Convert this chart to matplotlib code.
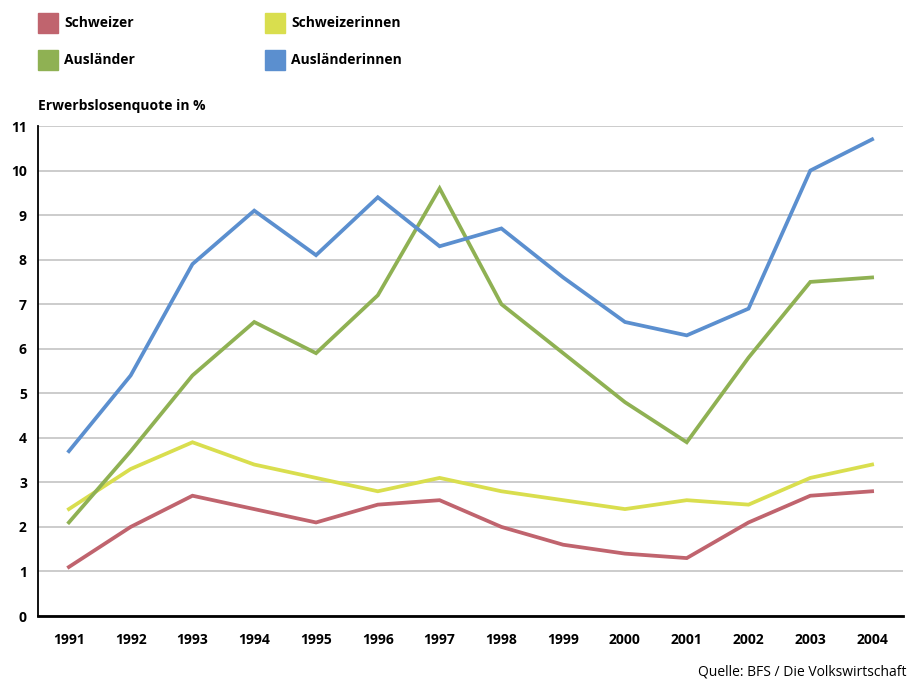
import matplotlib.pyplot as plt
from matplotlib.patches import Rectangle

plt.rcParams['font.family'] = ['Open Sans', 'DejaVu Sans']

years = ['1991', '1992', '1993', '1994', '1995', '1996', '1997',
         '1998', '1999', '2000', '2001', '2002', '2003', '2004']
schweizer = [1.1, 2.0, 2.7, 2.4, 2.1, 2.5, 2.6, 2.0, 1.6, 1.4, 1.3, 2.1, 2.7, 2.8]
schweizerinnen = [2.4, 3.3, 3.9, 3.4, 3.1, 2.8, 3.1, 2.8, 2.6, 2.4, 2.6, 2.5, 3.1, 3.4]
auslaender = [2.1, 3.7, 5.4, 6.6, 5.9, 7.2, 9.6, 7.0, 5.9, 4.8, 3.9, 5.8, 7.5, 7.6]
auslaenderinnen = [3.7, 5.4, 7.9, 9.1, 8.1, 9.4, 8.3, 8.7, 7.6, 6.6, 6.3, 6.9, 10.0, 10.7]

series = [
    ('Schweizer', schweizer, '#c0646e'),
    ('Schweizerinnen', schweizerinnen, '#d9de4e'),
    ('Ausländer', auslaender, '#8fb153'),
    ('Ausländerinnen', auslaenderinnen, '#5b8fcf'),
]

fig = plt.figure(figsize=(9.08, 6.81), dpi=100)
ax = fig.add_axes([38/908, 1-616/681, 865/908, 490/681])

x = list(range(len(years)))
for name, vals, col in series:
    ax.plot(x, vals, color=col, lw=2.7, solid_joinstyle='miter', zorder=3)

ax.set_xlim(-0.5, len(years) - 0.5)
ax.set_ylim(0, 11)
ax.set_yticks(range(12))
ax.set_xticks(x)
ax.set_xticklabels(years)
ax.yaxis.grid(True, color='#c8c8c8', lw=1.3)
ax.set_axisbelow(True)
ax.tick_params(length=0, labelsize=10, pad=8)
for lab in ax.get_xticklabels() + ax.get_yticklabels():
    lab.set_fontweight('bold')
ax.tick_params(axis='x', pad=12)
for s in ['top', 'right']:
    ax.spines[s].set_visible(False)
ax.spines['left'].set_linewidth(1.3)
ax.spines['bottom'].set_linewidth(2)

# legend boxes
legpos = [(38, 23), (265, 23), (38, 60), (265, 60)]
for (name, vals, col), (px, py) in zip(series, legpos):
    fig.patches.append(Rectangle((px/908, 1-(py+10)/681), 20/908, 20/681,
                                 transform=fig.transFigure, color=col))
    fig.text((px+26)/908, 1-py/681, name, fontsize=10, fontweight='bold',
             va='center', ha='left')

fig.text(38/908, 1-106/681, 'Erwerbslosenquote in %', fontsize=10,
         fontweight='bold', va='center', ha='left')
fig.text(906/908, 1-672/681, 'Quelle: BFS / Die Volkswirtschaft', fontsize=10,
         va='center', ha='right')

fig.savefig('out.png', dpi=100)
